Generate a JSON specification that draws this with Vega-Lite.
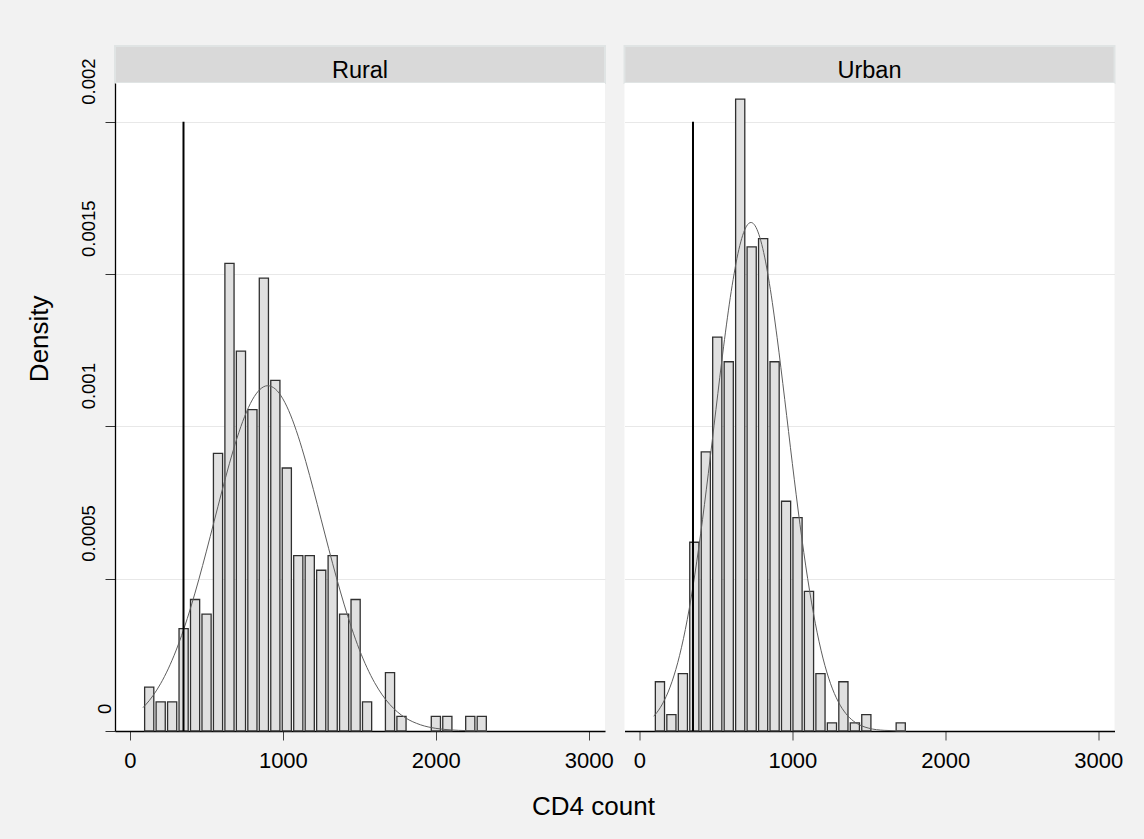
{
  "$schema": "https://vega.github.io/schema/vega-lite/v6.json",
  "autosize": {"type": "none"},
  "padding": {"left": 115, "top": 46, "right": 1029, "bottom": 793},
  "background": "#f2f2f2",
  "config": {
    "font": "Liberation Sans",
    "view": {"stroke": null},
    "axis": {"labelColor": "black", "titleColor": "black", "labelFont": "Liberation Sans", "titleFont": "Liberation Sans"}
  },
  "title": {"text": "CD4 count", "orient": "bottom", "anchor": "middle", "fontSize": 26, "fontWeight": "normal", "color": "black", "font": "Liberation Sans", "offset": 23, "dx": 19},
  "datasets": {
    "rural_bars": [
      {"lo": 85, "hi": 160, "density": 0.00014388},
      {"lo": 160, "hi": 235, "density": 0.00009592},
      {"lo": 235, "hi": 310, "density": 0.00009592},
      {"lo": 310, "hi": 385, "density": 0.00033573},
      {"lo": 385, "hi": 460, "density": 0.00043165},
      {"lo": 460, "hi": 535, "density": 0.00038369},
      {"lo": 535, "hi": 610, "density": 0.00091127},
      {"lo": 610, "hi": 685, "density": 0.00153477},
      {"lo": 685, "hi": 760, "density": 0.00124700},
      {"lo": 760, "hi": 835, "density": 0.00105516},
      {"lo": 835, "hi": 910, "density": 0.00148681},
      {"lo": 910, "hi": 985, "density": 0.00115108},
      {"lo": 985, "hi": 1060, "density": 0.00086331},
      {"lo": 1060, "hi": 1135, "density": 0.00057554},
      {"lo": 1135, "hi": 1210, "density": 0.00057554},
      {"lo": 1210, "hi": 1285, "density": 0.00052758},
      {"lo": 1285, "hi": 1360, "density": 0.00057554},
      {"lo": 1360, "hi": 1435, "density": 0.00038369},
      {"lo": 1435, "hi": 1510, "density": 0.00043165},
      {"lo": 1510, "hi": 1585, "density": 0.00009592},
      {"lo": 1660, "hi": 1735, "density": 0.00019185},
      {"lo": 1735, "hi": 1810, "density": 0.00004796},
      {"lo": 1960, "hi": 2035, "density": 0.00004796},
      {"lo": 2035, "hi": 2110, "density": 0.00004796},
      {"lo": 2185, "hi": 2260, "density": 0.00004796},
      {"lo": 2260, "hi": 2335, "density": 0.00004796}
    ],
    "urban_bars": [
      {"lo": 93, "hi": 168, "density": 0.0001616},
      {"lo": 168, "hi": 243, "density": 0.0000539},
      {"lo": 243, "hi": 318, "density": 0.0001886},
      {"lo": 318, "hi": 393, "density": 0.0006196},
      {"lo": 393, "hi": 468, "density": 0.000916},
      {"lo": 468, "hi": 543, "density": 0.001293},
      {"lo": 543, "hi": 618, "density": 0.001212},
      {"lo": 618, "hi": 693, "density": 0.002074},
      {"lo": 693, "hi": 768, "density": 0.001589},
      {"lo": 768, "hi": 843, "density": 0.001616},
      {"lo": 843, "hi": 918, "density": 0.001212},
      {"lo": 918, "hi": 993, "density": 0.0007542},
      {"lo": 993, "hi": 1068, "density": 0.0007004},
      {"lo": 1068, "hi": 1143, "density": 0.000458},
      {"lo": 1143, "hi": 1218, "density": 0.0001886},
      {"lo": 1218, "hi": 1293, "density": 0.0000269},
      {"lo": 1293, "hi": 1368, "density": 0.0001616},
      {"lo": 1368, "hi": 1443, "density": 0.0000269},
      {"lo": 1443, "hi": 1518, "density": 0.0000539},
      {"lo": 1668, "hi": 1743, "density": 0.0000269}
    ],
    "rural_curve": [
      {"cd4": 85, "density": 0.0000767}, {"cd4": 100, "density": 0.0000846}, {"cd4": 150, "density": 0.0001157},
      {"cd4": 200, "density": 0.0001551}, {"cd4": 250, "density": 0.0002039}, {"cd4": 300, "density": 0.0002626},
      {"cd4": 350, "density": 0.0003314}, {"cd4": 400, "density": 0.0004099}, {"cd4": 450, "density": 0.0004970},
      {"cd4": 500, "density": 0.0005904}, {"cd4": 550, "density": 0.0006874}, {"cd4": 600, "density": 0.0007844},
      {"cd4": 650, "density": 0.0008772}, {"cd4": 700, "density": 0.0009613}, {"cd4": 750, "density": 0.0010325},
      {"cd4": 800, "density": 0.0010868}, {"cd4": 850, "density": 0.0011211}, {"cd4": 900, "density": 0.0011334},
      {"cd4": 950, "density": 0.0011229}, {"cd4": 1000, "density": 0.0010903}, {"cd4": 1050, "density": 0.0010375},
      {"cd4": 1100, "density": 0.0009676}, {"cd4": 1150, "density": 0.0008843}, {"cd4": 1200, "density": 0.0007920},
      {"cd4": 1250, "density": 0.0006953}, {"cd4": 1300, "density": 0.0005981}, {"cd4": 1350, "density": 0.0005043},
      {"cd4": 1400, "density": 0.0004166}, {"cd4": 1450, "density": 0.0003374}, {"cd4": 1500, "density": 0.0002677},
      {"cd4": 1550, "density": 0.0002082}, {"cd4": 1600, "density": 0.0001587}, {"cd4": 1650, "density": 0.0001185},
      {"cd4": 1700, "density": 0.0000868}, {"cd4": 1750, "density": 0.0000623}, {"cd4": 1800, "density": 0.0000438},
      {"cd4": 1900, "density": 0.0000204}, {"cd4": 2000, "density": 0.0000087}, {"cd4": 2100, "density": 0.0000035},
      {"cd4": 2200, "density": 0.0000013}, {"cd4": 2335, "density": 0.0000003}
    ],
    "urban_curve": [
      {"cd4": 93, "density": 0.0000484}, {"cd4": 100, "density": 0.0000523}, {"cd4": 150, "density": 0.0000887},
      {"cd4": 200, "density": 0.0001441}, {"cd4": 250, "density": 0.0002240}, {"cd4": 300, "density": 0.0003333},
      {"cd4": 350, "density": 0.0004747}, {"cd4": 400, "density": 0.0006472}, {"cd4": 450, "density": 0.0008445},
      {"cd4": 500, "density": 0.0010548}, {"cd4": 550, "density": 0.0012610}, {"cd4": 600, "density": 0.0014429},
      {"cd4": 650, "density": 0.0015805}, {"cd4": 700, "density": 0.0016570}, {"cd4": 729, "density": 0.0016692},
      {"cd4": 750, "density": 0.0016628}, {"cd4": 800, "density": 0.0015971}, {"cd4": 850, "density": 0.0014684},
      {"cd4": 900, "density": 0.0012922}, {"cd4": 950, "density": 0.0010885}, {"cd4": 1000, "density": 0.0008777},
      {"cd4": 1050, "density": 0.0006773}, {"cd4": 1100, "density": 0.0005003}, {"cd4": 1150, "density": 0.0003538},
      {"cd4": 1200, "density": 0.0002394}, {"cd4": 1250, "density": 0.0001551}, {"cd4": 1300, "density": 0.0000962},
      {"cd4": 1350, "density": 0.0000571}, {"cd4": 1400, "density": 0.0000324}, {"cd4": 1450, "density": 0.0000176},
      {"cd4": 1500, "density": 0.0000092}, {"cd4": 1600, "density": 0.0000022}, {"cd4": 1743, "density": 0.0000002}
    ],
    "cutoff": [{"cd4": 350, "ymin": 0, "ymax": 0.002}]
  },
  "spacing": 9.5,
  "hconcat": [
    {
      "spacing": 0,
      "bounds": "flush",
      "vconcat": [
        {
          "width": 490, "height": 37,
          "view": {"fill": "#d9d9d9", "stroke": "#e0e4e4", "strokeWidth": 2},
          "data": {"values": [{"area": "Rural"}]},
          "mark": {"type": "text", "fontSize": 23.5, "font": "Liberation Sans", "color": "black", "baseline": "alphabetic", "dy": 13},
          "encoding": {"text": {"field": "area", "type": "nominal"}}
        },
        {
          "width": 490, "height": 648,
          "view": {"fill": "white", "stroke": null},
          "layer": [
            {
              "data": {"name": "rural_bars"},
              "mark": {"type": "bar", "fill": "#e0e0e0", "stroke": "#303030", "strokeWidth": 1.3, "binSpacing": 2.3},
              "encoding": {
                "x": {"field": "lo", "type": "quantitative", "bin": "binned",
                      "scale": {"domain": [-98, 3107], "nice": false, "zero": false},
                      "axis": {"values": [0, 1000, 2000, 3000], "title": null, "grid": false, "format": "d", "tickSize": 9, "tickColor": "#444", "labelFontSize": 22, "labelBaseline": "alphabetic", "labelPadding": 27, "domainColor": "black", "domainWidth": 1.3, "labelFlush": false, "labelOverlap": false}},
                "x2": {"field": "hi"},
                "y": {"field": "density", "type": "quantitative",
                      "scale": {"domain": [0, 0.002127], "nice": false, "zero": true},
                      "axis": {"values": [0, 0.0005, 0.001, 0.0015, 0.002], "format": "~g", "grid": true, "gridColor": "#e8e8e8", "gridWidth": 1,
                               "title": "Density", "titleFontSize": 26, "titleFontWeight": "normal", "titleAngle": 270, "titleAlign": "center", "titleBaseline": "alphabetic", "titleX": -67.7, "titleY": 255.3,
                               "labelAngle": 270, "labelAlign": "left", "labelBaseline": "alphabetic", "labelFontSize": 18.5, "labelOffset": -17.5,
                               "labelPadding": {"condition": {"test": "datum.value === 0", "value": -5.7}, "value": 11},
                               "tickSize": 10, "tickColor": "#333", "domainColor": "black", "domainWidth": 1.3, "labelOverlap": false, "labelBound": false}}
              }
            },
            {
              "data": {"name": "rural_curve"},
              "mark": {"type": "line", "color": "#5e5e5e", "strokeWidth": 1, "interpolate": "monotone"},
              "encoding": {
                "x": {"field": "cd4", "type": "quantitative", "scale": {"domain": [-98, 3107], "nice": false, "zero": false}},
                "y": {"field": "density", "type": "quantitative", "scale": {"domain": [0, 0.002127], "nice": false, "zero": true}}
              }
            },
            {
              "data": {"name": "cutoff"},
              "mark": {"type": "rule", "color": "black", "strokeWidth": 2},
              "encoding": {
                "x": {"field": "cd4", "type": "quantitative", "scale": {"domain": [-98, 3107], "nice": false, "zero": false}},
                "y": {"field": "ymin", "type": "quantitative", "scale": {"domain": [0, 0.002127], "nice": false, "zero": true}},
                "y2": {"field": "ymax"}
              }
            }
          ]
        }
      ]
    },
    {
      "spacing": 0,
      "bounds": "flush",
      "vconcat": [
        {
          "width": 490, "height": 37,
          "view": {"fill": "#d9d9d9", "stroke": "#e0e4e4", "strokeWidth": 2},
          "data": {"values": [{"area": "Urban"}]},
          "mark": {"type": "text", "fontSize": 23.5, "font": "Liberation Sans", "color": "black", "baseline": "alphabetic", "dy": 13},
          "encoding": {"text": {"field": "area", "type": "nominal"}}
        },
        {
          "width": 490, "height": 648,
          "view": {"fill": "white", "stroke": null},
          "layer": [
            {
              "data": {"name": "urban_bars"},
              "mark": {"type": "bar", "fill": "#e0e0e0", "stroke": "#303030", "strokeWidth": 1.3, "binSpacing": 2.3},
              "encoding": {
                "x": {"field": "lo", "type": "quantitative", "bin": "binned",
                      "scale": {"domain": [-98, 3107], "nice": false, "zero": false},
                      "axis": {"values": [0, 1000, 2000, 3000], "title": null, "grid": false, "format": "d", "tickSize": 9, "tickColor": "#444", "labelFontSize": 22, "labelBaseline": "alphabetic", "labelPadding": 27, "domainColor": "black", "domainWidth": 1.3, "labelFlush": false, "labelOverlap": false}},
                "x2": {"field": "hi"},
                "y": {"field": "density", "type": "quantitative",
                      "scale": {"domain": [0, 0.002127], "nice": false, "zero": true},
                      "axis": {"values": [0, 0.0005, 0.001, 0.0015, 0.002], "grid": true, "gridColor": "#e8e8e8", "gridWidth": 1, "domain": false, "ticks": false, "labels": false, "title": null}}
              }
            },
            {
              "data": {"name": "urban_curve"},
              "mark": {"type": "line", "color": "#5e5e5e", "strokeWidth": 1, "interpolate": "monotone"},
              "encoding": {
                "x": {"field": "cd4", "type": "quantitative", "scale": {"domain": [-98, 3107], "nice": false, "zero": false}},
                "y": {"field": "density", "type": "quantitative", "scale": {"domain": [0, 0.002127], "nice": false, "zero": true}}
              }
            },
            {
              "data": {"name": "cutoff"},
              "mark": {"type": "rule", "color": "black", "strokeWidth": 2},
              "encoding": {
                "x": {"field": "cd4", "type": "quantitative", "scale": {"domain": [-98, 3107], "nice": false, "zero": false}},
                "y": {"field": "ymin", "type": "quantitative", "scale": {"domain": [0, 0.002127], "nice": false, "zero": true}},
                "y2": {"field": "ymax"}
              }
            }
          ]
        }
      ]
    }
  ]
}
